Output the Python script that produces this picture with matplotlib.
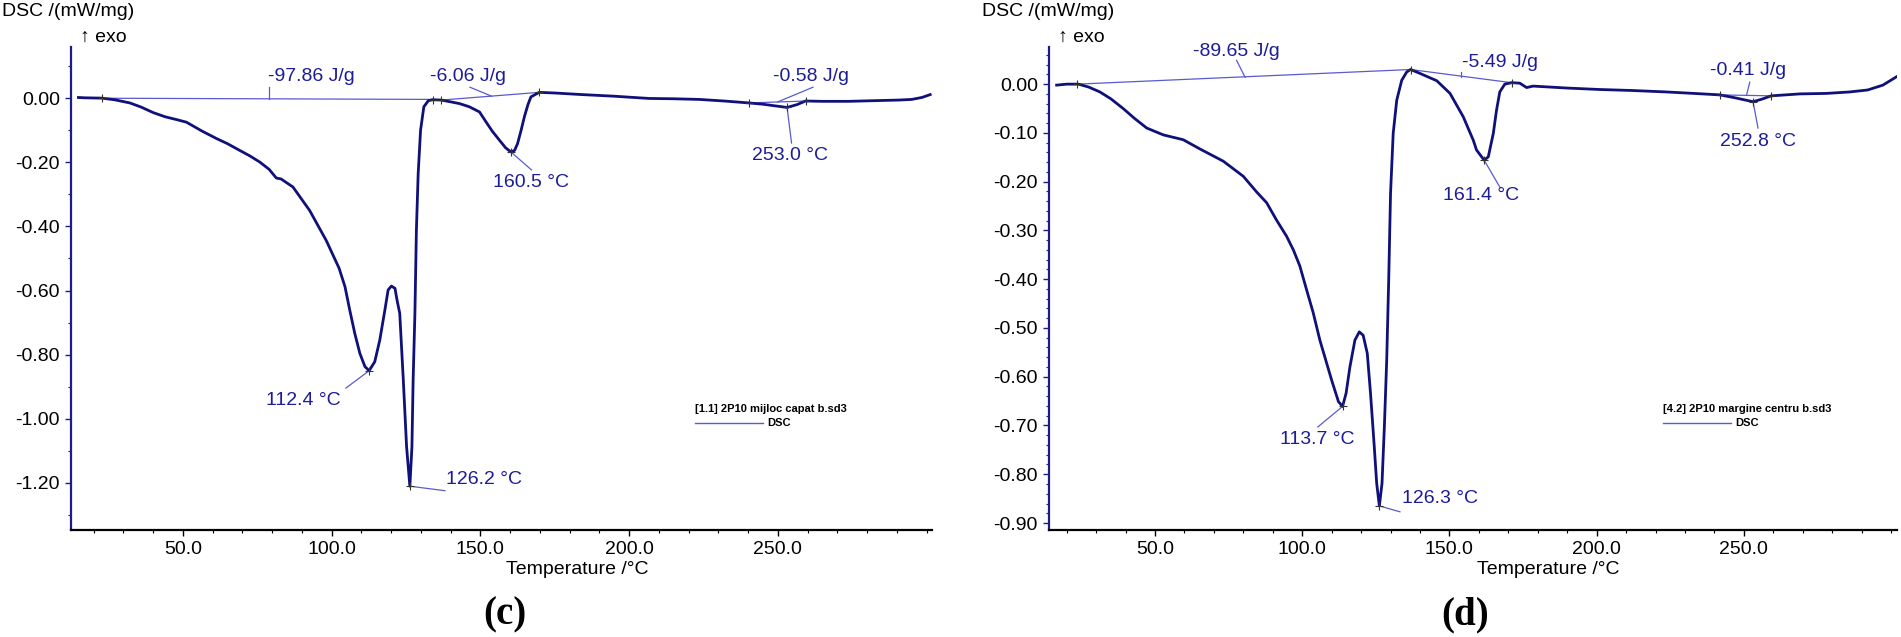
import matplotlib
matplotlib.use('Agg')
import matplotlib.pyplot as plt
from matplotlib.ticker import MultipleLocator, FixedLocator, FormatStrFormatter

plt.rcParams['font.family'] = ['Liberation Sans', 'DejaVu Sans']

# ---------------- panel (c) : 2P10 mijloc capat ----------------
temp_c = [14.9, 17.0, 22.7, 27.0, 32.2, 36.0, 40.0, 44.0, 47.9, 51.2, 56.3, 61.3, 65.0,
          69.1, 72.5, 75.8, 79.0, 81.4, 83.0, 87.0, 92.6, 98.2, 102.5, 104.5, 106.1,
          107.8, 109.5, 111.2, 112.6, 114.5, 116.2, 117.9, 119.0, 120.1, 121.3, 122.0,
          122.9, 124.1, 125.2, 126.3, 127.0, 127.4, 128.0, 128.5, 129.1, 129.9, 131.0,
          132.5, 134.0, 136.8, 139.7, 143.0, 146.3, 149.7, 151.9, 154.0, 156.4, 158.5,
          160.3, 161.5, 162.5, 163.7, 164.8, 166.0, 167.0, 169.8, 175.0, 184.3, 195.0,
          206.7, 215.0, 223.5, 232.0, 240.3, 245.0, 249.0, 253.1, 256.5, 259.3, 265.0,
          273.8, 282.0, 290.6, 295.0, 298.4, 301.2]
dsc_c = [0.002, 0.001, 0.000, -0.005, -0.015, -0.028, -0.045, -0.058, -0.067, -0.075,
         -0.102, -0.126, -0.142, -0.163, -0.180, -0.199, -0.222, -0.249, -0.252, -0.277,
         -0.350, -0.444, -0.530, -0.588, -0.661, -0.734, -0.796, -0.837, -0.850, -0.822,
         -0.754, -0.661, -0.598, -0.586, -0.593, -0.630, -0.671, -0.879, -1.087, -1.210,
         -1.087, -0.879, -0.671, -0.411, -0.235, -0.100, -0.027, -0.008, -0.005, -0.006,
         -0.011, -0.017, -0.027, -0.043, -0.074, -0.103, -0.131, -0.155, -0.168, -0.163,
         -0.142, -0.100, -0.058, -0.020, 0.004, 0.018, 0.016, 0.011, 0.006, -0.001, -0.002,
         -0.004, -0.009, -0.015, -0.019, -0.024, -0.029, -0.020, -0.009, -0.010, -0.010,
         -0.008, -0.006, -0.004, 0.002, 0.011]

# integration baselines (start, end) per peak
base_c_t = [[15.4, 134.0], [136.8, 169.8], [240.3, 259.3]]
base_c_v = [[0.000, -0.004], [-0.006, 0.018], [-0.015, -0.009]]
marks_c_t = [22.7, 134.0, 136.8, 169.8, 112.6, 126.3, 160.3, 240.3, 253.1, 259.3]
marks_c_v = [0.000, -0.005, -0.006, 0.018, -0.850, -1.210, -0.168, -0.015, -0.029, -0.009]

# labels: text, text pos, leader start, leader end
labels_c = [
    ('-97.86 J/g', (78.6, 0.066), (78.8, -0.002), (78.8, 0.034)),
    ('-6.06 J/g', (133.0, 0.066), (153.8, 0.006), (146.5, 0.034)),
    ('-0.58 J/g', (248.3, 0.066), (249.9, -0.012), (261.8, 0.034)),
    ('160.5 °C', (154.2, -0.262), (160.3, -0.168), (167.2, -0.224)),
    ('253.0 °C', (241.3, -0.178), (253.1, -0.029), (254.6, -0.140)),
    ('112.4 °C', (78.1, -0.944), (112.6, -0.850), (104.8, -0.904)),
    ('126.2 °C', (138.4, -1.188), (126.3, -1.210), (138.1, -1.224)),
]

# ---------------- panel (d) : 2P10 margine centru ----------------
temp_d = [16.6, 20.0, 24.0, 27.5, 31.3, 35.0, 39.2, 43.0, 47.2, 52.8, 59.6, 65.3, 73.2,
          80.0, 84.5, 87.9, 91.3, 94.7, 97.0, 99.2, 101.5, 103.7, 106.0, 110.0, 112.3,
          113.7, 114.9, 116.2, 117.9, 119.4, 120.7, 122.1, 123.2, 124.4, 125.3, 126.2,
          127.1, 127.9, 128.7, 129.4, 130.0, 130.9, 132.1, 133.8, 135.5, 136.8, 140.0,
          145.7, 150.2, 154.7, 158.1, 159.2, 161.8, 163.2, 164.9, 166.0, 167.1, 168.8,
          171.1, 173.9, 176.2, 178.4, 190.0, 201.1, 212.0, 223.7, 233.0, 241.8, 247.0,
          253.1, 256.0, 259.3, 269.0, 278.0, 285.9, 292.0, 297.2, 301.8]
dsc_d = [-0.002, 0.000, 0.000, -0.006, -0.016, -0.030, -0.050, -0.070, -0.090, -0.104,
         -0.114, -0.133, -0.158, -0.189, -0.221, -0.243, -0.279, -0.312, -0.340, -0.373,
         -0.422, -0.468, -0.525, -0.607, -0.651, -0.661, -0.634, -0.580, -0.525, -0.508,
         -0.515, -0.552, -0.634, -0.737, -0.819, -0.865, -0.819, -0.703, -0.566, -0.395,
         -0.224, -0.101, -0.033, 0.008, 0.025, 0.030, 0.022, 0.007, -0.019, -0.067, -0.115,
         -0.135, -0.156, -0.149, -0.101, -0.053, -0.016, 0.000, 0.003, 0.002, -0.007,
         -0.004, -0.008, -0.011, -0.013, -0.016, -0.019, -0.022, -0.028, -0.036, -0.031,
         -0.024, -0.020, -0.019, -0.016, -0.012, -0.002, 0.015]

base_d_t = [[23.5, 136.8], [136.8, 171.1], [241.8, 259.3]]
base_d_v = [[0.000, 0.030], [0.030, 0.003], [-0.022, -0.024]]
marks_d_t = [23.5, 136.8, 171.1, 113.7, 126.2, 161.8, 241.8, 253.1, 259.3]
marks_d_v = [0.000, 0.030, 0.003, -0.661, -0.865, -0.156, -0.022, -0.036, -0.024]

labels_d = [
    ('-89.65 J/g', (62.9, 0.066), (80.6, 0.014), (77.7, 0.049)),
    ('-5.49 J/g', (154.2, 0.045), (153.9, 0.015), (153.9, 0.025)),
    ('-0.41 J/g', (238.5, 0.027), (250.9, -0.0225), (252.0, 0.004)),
    ('161.4 °C', (147.8, -0.228), (161.8, -0.156), (167.1, -0.211)),
    ('252.8 °C', (241.9, -0.117), (253.1, -0.036), (254.8, -0.090)),
    ('113.7 °C', (92.4, -0.728), (113.7, -0.661), (105.3, -0.703)),
    ('126.3 °C', (133.9, -0.849), (126.2, -0.865), (133.2, -0.877)),
]

x_major = [50, 100, 150, 200, 250]

curve_col = '#10107a'
base_col = '#5a5ad0'
text_col = '#1c1c99'
spine_col = '#1c1c8a'

fig = plt.figure(figsize=(19.01, 6.37), dpi=100)
ax1 = fig.add_axes([0.03735, 0.168, 0.4529, 0.758])
ax2 = fig.add_axes([0.5518, 0.168, 0.4461, 0.758])


def draw_panel(ax, t, v, base_t, base_v, mt, mv, labels, xlim, ylim, ystep, yminor):
    for bt, bv in zip(base_t, base_v):
        ax.plot(bt, bv, color=base_col, lw=0.9, zorder=2)
    ax.plot(t, v, color=curve_col, lw=2.0, zorder=3)
    ax.plot(mt, mv, ls='none', marker='+', ms=6, mew=0.8, color='#333333', zorder=4)
    for txt, tp, p0, p1 in labels:
        ax.plot([p0[0], p1[0]], [p0[1], p1[1]], color=base_col, lw=0.9, zorder=2)
        ax.text(tp[0], tp[1], txt, color=text_col, fontsize=14, ha='left', va='center')
    ax.set_xlim(*xlim)
    ax.set_ylim(*ylim)
    ax.xaxis.set_major_locator(FixedLocator(x_major))
    ax.xaxis.set_minor_locator(MultipleLocator(10))
    ax.yaxis.set_major_locator(MultipleLocator(ystep))
    ax.yaxis.set_minor_locator(MultipleLocator(yminor))
    ax.xaxis.set_major_formatter(FormatStrFormatter('%.1f'))
    ax.yaxis.set_major_formatter(FormatStrFormatter('%.2f'))
    ax.spines['top'].set_visible(False)
    ax.spines['right'].set_visible(False)
    ax.spines['left'].set_color(spine_col)
    ax.spines['left'].set_linewidth(1.6)
    ax.spines['bottom'].set_color('black')
    ax.spines['bottom'].set_linewidth(1.6)
    ax.tick_params(axis='both', which='major', labelsize=14, length=4, width=1.0, pad=4)
    ax.tick_params(axis='both', which='minor', length=2.5, width=0.8)
    ax.tick_params(axis='y', which='both', colors=spine_col, labelcolor='black')


draw_panel(ax1, temp_c, dsc_c, base_c_t, base_c_v, marks_c_t, marks_c_v, labels_c,
           (12.4, 301.8), (-1.3465, 0.159), 0.2, 0.1)
draw_panel(ax2, temp_d, dsc_d, base_d_t, base_d_v, marks_d_t, marks_d_v, labels_d,
           (14.0, 302.0), (-0.9143, 0.0759), 0.1, 0.02)

# y labels, x labels, legends, panel letters
W, H = 1901.0, 637.0
for x0, xexo, xt, xleg, xdsc, leg, letter, xl in [
        (2, 80, 577, 695, 767, '[1.1] 2P10 mijloc capat b.sd3', '(c)', 505),
        (982, 1058, 1548, 1663, 1735, '[4.2] 2P10 margine centru b.sd3', '(d)', 1465)]:
    fig.text(x0 / W, 1 - 12 / H, 'DSC /(mW/mg)', fontsize=14, ha='left', va='center')
    fig.text(xexo / W, 1 - 37 / H, '↑ exo', fontsize=14, ha='left', va='center')
    fig.text(xt / W, 1 - 570 / H, 'Temperature /°C', fontsize=14, ha='center', va='center')
    fig.text(xleg / W, 1 - 409 / H, leg, fontsize=8, fontweight='bold', ha='left', va='center')
    fig.text(xdsc / W, 1 - 423 / H, 'DSC', fontsize=8, fontweight='bold', ha='left', va='center')
    fig.add_artist(plt.Line2D([xleg / W, (xdsc - 4) / W], [1 - 423 / H, 1 - 423 / H],
                              color=base_col, lw=1.0))
    fig.text(xl / W, 1 - 615 / H, letter, fontsize=28, fontweight='bold',
             family=['Liberation Serif'], ha='center', va='center')

plt.savefig('out.png', dpi=100)
